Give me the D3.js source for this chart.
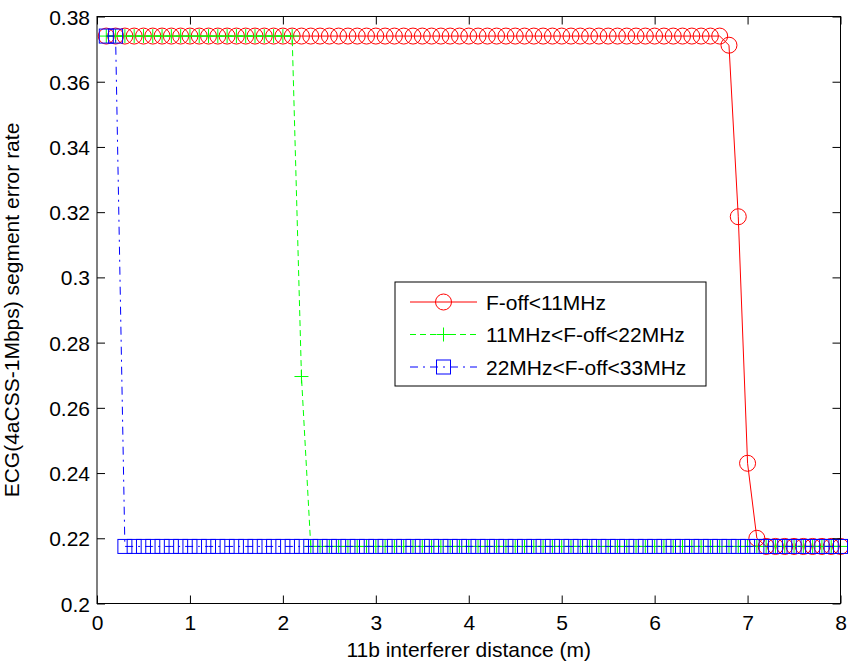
<!DOCTYPE html>
<html>
<head>
<meta charset="utf-8">
<script src="https://cdn.jsdelivr.net/npm/d3@7/dist/d3.min.js"></script>
<style>
  html, body { margin: 0; padding: 0; background: #fff; }
  svg { display: block; }
  text { font-family: "Liberation Sans", Arial, Helvetica, sans-serif; }
</style>
</head>
<body>
<svg id="chart" width="848" height="664"></svg>
<script>
// ---------------- data ----------------
const distance = [
  0.1,0.2,0.3,0.4,0.5,0.6,0.7,0.8,0.9,1.0,
  1.1,1.2,1.3,1.4,1.5,1.6,1.7,1.8,1.9,2.0,
  2.1,2.2,2.3,2.4,2.5,2.6,2.7,2.8,2.9,3.0,
  3.1,3.2,3.3,3.4,3.5,3.6,3.7,3.8,3.9,4.0,
  4.1,4.2,4.3,4.4,4.5,4.6,4.7,4.8,4.9,5.0,
  5.1,5.2,5.3,5.4,5.5,5.6,5.7,5.8,5.9,6.0,
  6.1,6.2,6.3,6.4,6.5,6.6,6.7,6.8,6.9,7.0,
  7.1,7.2,7.3,7.4,7.5,7.6,7.7,7.8,7.9,8.0
];
const serFoff11 = [
  0.374,0.374,0.374,0.374,0.374,0.374,0.374,0.374,0.374,0.374,
  0.374,0.374,0.374,0.374,0.374,0.374,0.374,0.374,0.374,0.374,
  0.374,0.374,0.374,0.374,0.374,0.374,0.374,0.374,0.374,0.374,
  0.374,0.374,0.374,0.374,0.374,0.374,0.374,0.374,0.374,0.374,
  0.374,0.374,0.374,0.374,0.374,0.374,0.374,0.374,0.374,0.374,
  0.374,0.374,0.374,0.374,0.374,0.374,0.374,0.374,0.374,0.374,
  0.374,0.374,0.374,0.374,0.374,0.374,0.374,0.3712,0.3186,0.2430,
  0.2200,0.2175,0.2175,0.2175,0.2175,0.2175,0.2175,0.2175,0.2175,0.2175
];
const serFoff22 = [
  0.374,0.374,0.374,0.374,0.374,0.374,0.374,0.374,0.374,0.374,
  0.374,0.374,0.374,0.374,0.374,0.374,0.374,0.374,0.374,0.374,
  0.374,0.2696,0.2175,0.2175,0.2175,0.2175,0.2175,0.2175,0.2175,0.2175,
  0.2175,0.2175,0.2175,0.2175,0.2175,0.2175,0.2175,0.2175,0.2175,0.2175,
  0.2175,0.2175,0.2175,0.2175,0.2175,0.2175,0.2175,0.2175,0.2175,0.2175,
  0.2175,0.2175,0.2175,0.2175,0.2175,0.2175,0.2175,0.2175,0.2175,0.2175,
  0.2175,0.2175,0.2175,0.2175,0.2175,0.2175,0.2175,0.2175,0.2175,0.2175,
  0.2175,0.2175,0.2175,0.2175,0.2175,0.2175,0.2175,0.2175,0.2175,0.2175
];
const serFoff33 = [
  0.374,0.374,0.2175,0.2175,0.2175,0.2175,0.2175,0.2175,0.2175,0.2175,
  0.2175,0.2175,0.2175,0.2175,0.2175,0.2175,0.2175,0.2175,0.2175,0.2175,
  0.2175,0.2175,0.2175,0.2175,0.2175,0.2175,0.2175,0.2175,0.2175,0.2175,
  0.2175,0.2175,0.2175,0.2175,0.2175,0.2175,0.2175,0.2175,0.2175,0.2175,
  0.2175,0.2175,0.2175,0.2175,0.2175,0.2175,0.2175,0.2175,0.2175,0.2175,
  0.2175,0.2175,0.2175,0.2175,0.2175,0.2175,0.2175,0.2175,0.2175,0.2175,
  0.2175,0.2175,0.2175,0.2175,0.2175,0.2175,0.2175,0.2175,0.2175,0.2175,
  0.2175,0.2175,0.2175,0.2175,0.2175,0.2175,0.2175,0.2175,0.2175,0.2175
];
const seriesNames = ["F-off<11MHz", "11MHz<F-off<22MHz", "22MHz<F-off<33MHz"];
const xTicks = [0,1,2,3,4,5,6,7,8];
const yTicks = [0.2,0.22,0.24,0.26,0.28,0.3,0.32,0.34,0.36,0.38];
const xLabel = "11b interferer distance (m)";
const yLabel = "ECG(4aCSS-1Mbps) segment error rate";

// ---------------- layout ----------------
const svg = d3.select("#chart");
const L = 97, R = 840.5, T = 16.5, B = 603.5;
const x = d3.scaleLinear().domain([0, 8]).range([L, R]);
const y = d3.scaleLinear().domain([0.2, 0.38]).range([B, T]);
const FS = 21;

const series = [
  { name: seriesNames[0], values: serFoff11, color: "#ff0000", dash: null, marker: "circle" },
  { name: seriesNames[1], values: serFoff22, color: "#00ff00", dash: "6,4", marker: "plus" },
  { name: seriesNames[2], values: serFoff33, color: "#0000ff", dash: "8,5,2,5", marker: "square" }
];

function drawMarker(g, kind, cx, cy, color) {
  if (kind === "circle") {
    g.append("circle").attr("cx", cx).attr("cy", cy).attr("r", 8)
      .attr("fill", "none").attr("stroke", color).attr("stroke-width", 1);
  } else if (kind === "plus") {
    g.append("path").attr("d", `M${cx-7},${cy}H${cx+7}M${cx},${cy-7}V${cy+7}`)
      .attr("fill", "none").attr("stroke", color).attr("stroke-width", 1);
  } else {
    g.append("rect").attr("x", cx-7).attr("y", cy-7).attr("width", 14).attr("height", 14)
      .attr("fill", "none").attr("stroke", color).attr("stroke-width", 1);
  }
}

const plot = svg.append("g");
const line = d3.line().x((d, i) => x(distance[i])).y(d => y(d));

series.forEach(s => {
  const g = plot.append("g");
  g.append("path").datum(s.values).attr("d", line)
    .attr("fill", "none").attr("stroke", s.color).attr("stroke-width", 1)
    .attr("stroke-dasharray", s.dash);
  s.values.forEach((v, i) => drawMarker(g, s.marker, x(distance[i]), y(v), s.color));
});

// ---------------- axes ----------------
const tl = 8;
const axB = svg.append("g").attr("transform", `translate(0,${B})`)
  .call(d3.axisBottom(x).tickValues(xTicks).tickSize(-tl).tickPadding(12).tickFormat(d3.format("d")));
const axT = svg.append("g").attr("transform", `translate(0,${T})`)
  .call(d3.axisTop(x).tickValues(xTicks).tickSize(-tl).tickFormat(""));
const axL = svg.append("g").attr("transform", `translate(${L},0)`)
  .call(d3.axisLeft(y).tickValues(yTicks).tickSize(-tl).tickPadding(7).tickFormat(d => String(+d.toFixed(2))));
const axR = svg.append("g").attr("transform", `translate(${R},0)`)
  .call(d3.axisRight(y).tickValues(yTicks).tickSize(-tl).tickFormat(""));

[axB, axT, axL, axR].forEach(a => {
  a.select(".domain").remove();
  a.selectAll(".tick line").attr("stroke", "#000").attr("stroke-width", 1);
  a.selectAll(".tick text").attr("fill", "#000").style("font-size", FS + "px")
    .style("font-family", '"Liberation Sans", Arial, sans-serif');
});
axB.selectAll(".tick text").attr("dy", null).attr("y", 26);
axL.selectAll(".tick text").attr("dy", "0.36em");

svg.append("rect").attr("x", L).attr("y", T).attr("width", R - L).attr("height", B - T)
  .attr("fill", "none").attr("stroke", "#000").attr("stroke-width", 1);

// labels
svg.append("text").attr("x", (L + R) / 2).attr("y", 657).attr("text-anchor", "middle")
  .style("font-size", FS + "px").attr("fill", "#000").text(xLabel);
svg.append("text").attr("transform", `translate(19,${(T + B) / 2}) rotate(-90)`)
  .attr("text-anchor", "middle").style("font-size", FS + "px").attr("fill", "#000").text(yLabel);

// ---------------- legend ----------------
const lg = svg.append("g");
const lx0 = 395, ly0 = 282, lw = 311, lh = 104;
lg.append("rect").attr("x", lx0).attr("y", ly0).attr("width", lw).attr("height", lh)
  .attr("fill", "#fff").attr("stroke", "#000").attr("stroke-width", 1);
const rowY = [302, 334.5, 367];
series.forEach((s, i) => {
  const yy = rowY[i];
  lg.append("line").attr("x1", 410).attr("x2", 477).attr("y1", yy).attr("y2", yy)
    .attr("stroke", s.color).attr("stroke-width", 1).attr("stroke-dasharray", s.dash);
  drawMarker(lg, s.marker, 443.5, yy, s.color);
  lg.append("text").attr("x", 486).attr("y", yy + 7.5).style("font-size", FS + "px")
    .attr("fill", "#000").text(s.name);
});
</script>
</body>
</html>
